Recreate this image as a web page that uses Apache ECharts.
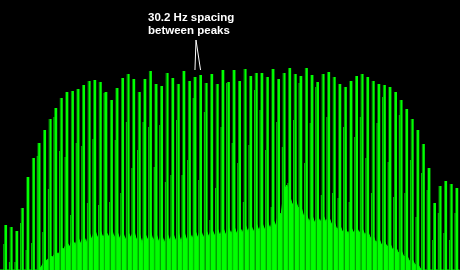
<!DOCTYPE html>
<html>
<head>
<meta charset="utf-8">
<script src="https://cdn.jsdelivr.net/npm/echarts@6/dist/echarts.min.js"></script>
<style>html,body{margin:0;padding:0;background:#000;}#c{width:460px;height:270px;}</style>
</head>
<body>
<div id="c"></div>
<script>
// Harmonic spacing (Hz) and harmonic numbers 1..82
const SPACING_HZ = 30.2;
const harmonics = Array.from({length: 82}, (_, i) => i + 1);

// Main peak levels (arbitrary level units, 0 = bottom of plot)
const peakLevels = [45,43,39,62,93,112,127,140,151,162, 172,178,179,181,185,189,190,188,178,170,
  182,192,196,191,178,191,199,186,184,197, 192,186,199,189,193,195,187,196,186,200,
  188,200,189,201,194,197,197,193,201,191, 197,202,196,194,202,195,188,196,198,193,
  186,183,189,194,196,193,189,186,185,183, 178,170,161,151,140,126,102,67,84,89,
  86,82];

// Companion (adjacent-bin) line levels, one per harmonic
const companionLevels = [26,8,8,47,20,27,114,38,81,153, 119,113,55,127,124,67,131,65,177,68,
  130,77,148,102,120,148,143,103,145,88, 95,150,95,110,172,90,158,50,82,143,
  187,127,107,68,125,180,160,120,63,148, 123,87,150,187,107,147,183,75,153,77,
  72,143,68,133,153,112,77,147,173,108, 73,155,77,110,53,97,80,30,57,37,
  30,57];

// Noise floor level, sampled every half spacing (15.1 Hz)
const noiseLevels = [0,0,0,0,0,0,0,0,0,0, 0,0,0,0,0,4,9,10,14,13,
  18,16,22,21,28,23,31,25,33,26, 35,27,38,30,41,32,40,32,39,33,
  42,32,39,31,39,30,38,32,40,30, 37,27,37,30,39,29,37,28,36,27,
  37,29,38,29,38,28,39,30,39,31, 40,32,41,32,40,33,42,34,42,34,
  43,35,43,36,44,36,44,37,46,38, 46,38,47,39,48,40,49,41,51,44,
  57,56,80,85,74,65,71,62,64,54, 56,48,55,47,54,48,55,48,54,46,
  48,40,45,38,42,36,43,37,43,37, 42,35,39,32,34,27,32,25,29,23,
  27,20,24,17,20,13,15,9,11,5, 6,1,0,0,0,0,0,0,0,0,
  0,0,0,0,0,0];

const annotationText = ['30.2 Hz spacing', 'between peaks'];
const annotatedHarmonics = [35, 36];

const X_MIN = 0, X_MAX = 2494, Y_MIN = 0, Y_MAX = 270;
const HZ_PER_PX = (X_MAX - X_MIN) / 460;

const mainData = harmonics.map((h, i) => [h * SPACING_HZ, peakLevels[i]]);
const compData = harmonics.map((h, i) => [h * SPACING_HZ - 1.5 * HZ_PER_PX, companionLevels[i]]);
const noiseData = noiseLevels.map((v, j) => [j * SPACING_HZ / 2, v]);

const apexF = 196 * HZ_PER_PX;
const apexL = 230;
const legEndL = 200;

const chart = echarts.init(document.getElementById('c'), null, {renderer: 'canvas'});
const xa = {type: 'value', min: X_MIN, max: X_MAX, show: false};
chart.setOption({
  backgroundColor: '#000000',
  animation: false,
  grid: {left: 0, right: 0, top: 0, bottom: 0},
  xAxis: [Object.assign({}, xa), Object.assign({}, xa), Object.assign({}, xa)],
  yAxis: {type: 'value', min: Y_MIN, max: Y_MAX, show: false},
  title: {
    text: annotationText.join('\n'),
    left: 143, top: 6,
    textStyle: {color: '#ffffff', fontSize: 11.5, fontWeight: 'bold', fontFamily: 'Liberation Sans, Arial, sans-serif', lineHeight: 13}
  },
  series: [
    {
      type: 'line', xAxisIndex: 2, data: noiseData, symbol: 'none', z: 1,
      lineStyle: {color: '#00ff00', width: 1},
      areaStyle: {color: '#00ff00', opacity: 1}
    },
    {
      type: 'bar', xAxisIndex: 1, data: compData, barWidth: 1.5, z: 2,
      itemStyle: {color: '#00e000'}
    },
    {
      type: 'bar', xAxisIndex: 0, data: mainData, barWidth: 3, z: 3,
      itemStyle: {
        color: new echarts.graphic.LinearGradient(0, 0, 1, 0, [
          {offset: 0, color: '#00a000'}, {offset: 0.3, color: '#00a000'},
          {offset: 0.36, color: '#00ff00'}, {offset: 1, color: '#00ff00'}
        ])
      },
      markLine: {
        silent: true, symbol: 'none', animation: false,
        label: {show: false},
        lineStyle: {color: '#ffffff', width: 1, type: 'solid'},
        data: annotatedHarmonics.map(h => [
          {coord: [apexF, apexL]},
          {coord: [h * SPACING_HZ, legEndL]}
        ])
      }
    }
  ]
});
</script>
</body>
</html>
